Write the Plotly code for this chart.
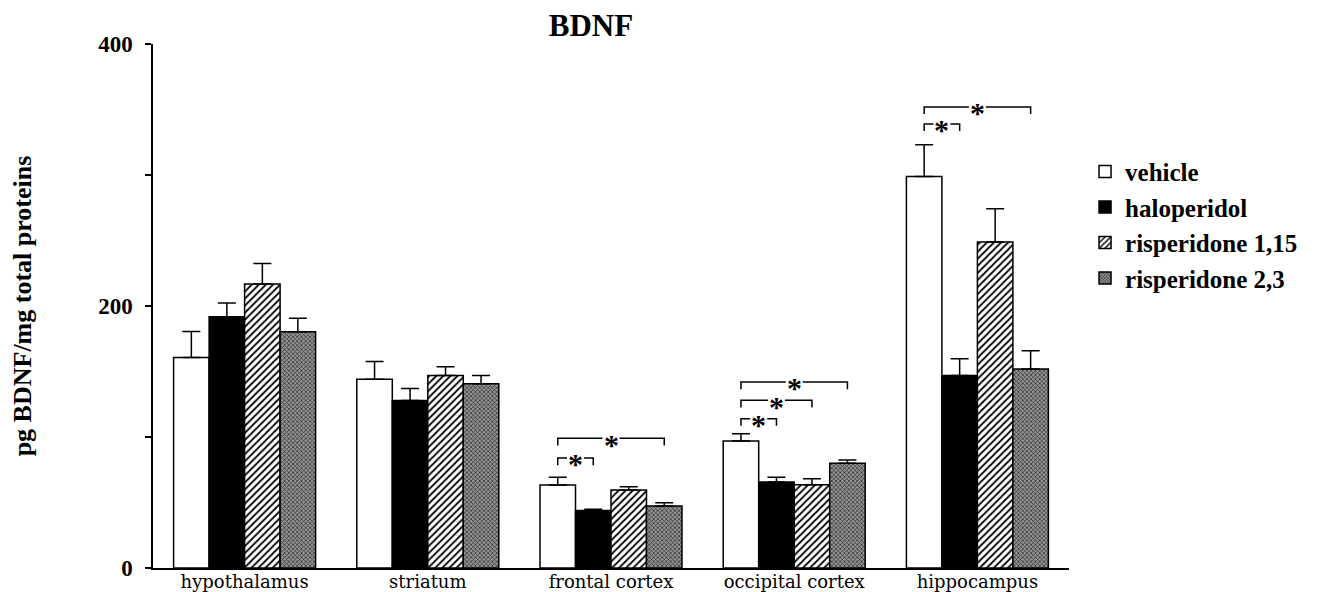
import plotly.graph_objects as go

regions = ["hypothalamus", "striatum", "frontal cortex", "occipital cortex", "hippocampus"]
groups = ["vehicle", "haloperidol", "risperidone 1,15", "risperidone 2,3"]

vehicle_mean = [160.7, 144.1, 63.4, 97.0, 298.9]
vehicle_sem = [19.8, 13.5, 5.9, 5.4, 24.2]
haloperidol_mean = [191.7, 127.8, 43.8, 65.7, 146.9]
haloperidol_sem = [10.5, 9.2, 1.0, 3.6, 12.8]
risp115_mean = [216.7, 146.9, 59.6, 63.6, 248.8]
risp115_sem = [15.8, 6.7, 2.5, 4.6, 25.5]
risp23_mean = [180.3, 140.6, 47.4, 80.0, 152.0]
risp23_sem = [10.4, 6.3, 2.5, 2.5, 13.8]

# significance comparisons vs vehicle (region, compared group, bracket height)
sig_region = ["frontal cortex", "frontal cortex", "occipital cortex", "occipital cortex",
              "occipital cortex", "hippocampus", "hippocampus"]
sig_vs = ["haloperidol", "risperidone 2,3", "haloperidol", "risperidone 1,15",
          "risperidone 2,3", "haloperidol", "risperidone 2,3"]
sig_level = [84, 99, 114, 128, 142, 339, 352]

y_tickvals = [0, 100, 200, 300, 400]
y_ticktext = ["0", "", "200", "", "400"]

means = [vehicle_mean, haloperidol_mean, risp115_mean, risp23_mean]
sems = [vehicle_sem, haloperidol_sem, risp115_sem, risp23_sem]

SERIF = "Liberation Serif"
BARGAP = 0.225
bw = (1 - BARGAP) / len(groups)
ML, MR, MT, MB = 145, 259, 36, 32
PLOT_W = 1320 - ML - MR
unit_px = PLOT_W / 5.0

styles = [
    dict(color="white", pattern=dict(shape="")),
    dict(color="black", pattern=dict(shape="")),
    dict(color="white", pattern=dict(shape="/", fgcolor="black", bgcolor="white",
                                     size=5, solidity=0.35, fillmode="replace")),
    dict(color="#808080", pattern=dict(shape="x", fgcolor="#262626", bgcolor="#959595",
                                       size=3, solidity=0.4, fillmode="replace")),
]

fig = go.Figure()
for g, m, s, st in zip(groups, means, sems, styles):
    fig.add_trace(go.Bar(
        name=f"<b>{g}</b>", x=regions, y=m,
        marker=dict(color=st["color"], pattern=st["pattern"],
                    line=dict(color="black", width=1.5)),
        error_y=dict(type="data", array=s, arrayminus=[0] * len(s), symmetric=False,
                     color="black", thickness=1.5, width=9),
    ))

shapes = []
annotations = []
TICK = 5.5
GAP = 8.5 / unit_px
for reg, vs, lvl in zip(sig_region, sig_vs, sig_level):
    ci = regions.index(reg)
    x0 = ci + (0 - 1.5) * bw
    x1 = ci + (groups.index(vs) - 1.5) * bw
    xm = (x0 + x1) / 2
    p1 = f"M {x0} {lvl - TICK} L {x0} {lvl} L {xm - GAP} {lvl}"
    p2 = f"M {xm + GAP} {lvl} L {x1} {lvl} L {x1} {lvl - TICK}"
    for p in (p1, p2):
        shapes.append(dict(type="path", path=p, xref="x", yref="y",
                           line=dict(color="black", width=1.5)))
    annotations.append(dict(x=xm, y=lvl, xref="x", yref="y", text="<b>*</b>",
                            showarrow=False,
                            font=dict(family=SERIF, size=30, color="black"),
                            yshift=-6))

fig.update_layout(
    width=1320, height=592,
    margin=dict(l=ML, r=MR, t=MT, b=MB, autoexpand=False),
    paper_bgcolor="white", plot_bgcolor="white",
    barmode="group", bargap=BARGAP, bargroupgap=0,
    title=dict(text="<b>BDNF</b>", x=583 / 1320, xanchor="center",
               y=1 - 17 / 592, yanchor="middle",
               font=dict(family=SERIF, size=31, color="black")),
    legend=dict(x=1.0175, xanchor="left", y=0.80, yanchor="top",
                font=dict(family=SERIF, size=25, color="black"),
                bgcolor="rgba(0,0,0,0)", tracegroupgap=0),
    shapes=shapes, annotations=annotations,
    showlegend=True,
)

fig.update_xaxes(
    range=[-0.5, 4.5], showline=True, linecolor="black", linewidth=1.5,
    ticks="", showgrid=False, zeroline=False, automargin=False,
    tickfont=dict(family="DejaVu Serif", size=18, color="black"),
    ticklabelstandoff=-3,
)
fig.update_yaxes(
    range=[0, 400], showline=True, linecolor="black", linewidth=1.5,
    ticks="outside", ticklen=6, tickwidth=1.5, tickcolor="black",
    tickvals=y_tickvals, ticktext=y_ticktext, ticklabelstandoff=8,
    showgrid=False, zeroline=False, automargin=False,
    tickfont=dict(family=SERIF, size=23, color="black", weight="bold"),
    title=dict(text="<b>pg BDNF/mg total proteins</b>", standoff=73,
               font=dict(family=SERIF, size=26, color="black")),
)

fig.write_html("out.html")
